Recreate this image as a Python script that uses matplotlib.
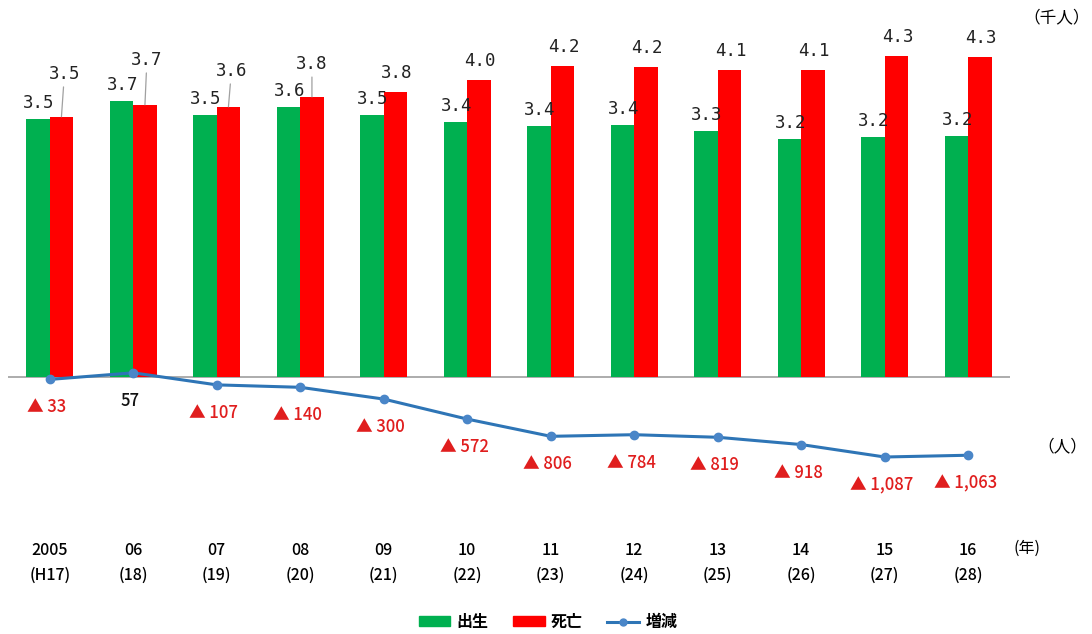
import matplotlib
matplotlib.use("Agg")
import matplotlib.pyplot as plt
from matplotlib.patches import Patch
from matplotlib.lines import Line2D
import numpy as np

plt.rcParams['font.family'] = ['Noto Sans CJK JP', 'DejaVu Sans']

# Data
years = ["2005", "06", "07", "08", "09", "10", "11", "12", "13", "14", "15", "16"]
eras = ["(H17)", "(18)", "(19)", "(20)", "(21)", "(22)", "(23)", "(24)", "(25)", "(26)", "(27)", "(28)"]
births = [3.460, 3.711, 3.520, 3.620, 3.520, 3.420, 3.370, 3.380, 3.300, 3.200, 3.220, 3.230]   # thousand people
deaths = [3.493, 3.654, 3.627, 3.760, 3.820, 3.992, 4.176, 4.164, 4.119, 4.118, 4.307, 4.293]   # thousand people
change = [-33, 57, -107, -140, -300, -572, -806, -784, -819, -918, -1087, -1063]               # people

GREEN = "#00B050"
RED = "#FF0000"
BLUE = "#2E75B6"
LABEL_RED = "#E01E1E"

W, H = 1092, 634
fig = plt.figure(figsize=(W / 100, H / 100), dpi=100)

# axes placed in pixel coordinates: x 8..1010, y 30..500 (from top)
left, right, top, bottom = 8, 1010, 30, 500
ax = fig.add_axes([left / W, (H - bottom) / H, (right - left) / W, (bottom - top) / H])
ax2 = ax.twinx()

zero_y = 377
px_per_k = 74.5
px_per_person = 0.0736
ax.set_ylim(-(bottom - zero_y) / px_per_k, (zero_y - top) / px_per_k)
ax2.set_ylim(-(bottom - zero_y) / px_per_person, (zero_y - top) / px_per_person)

x = np.arange(len(years))
bw = 0.28
ax.bar(x - bw / 2, births, width=bw, color=GREEN, zorder=2)
ax.bar(x + bw / 2, deaths, width=bw, color=RED, zorder=2)
ax.set_xlim(-0.5, len(years) - 0.5)
ax.axhline(0, color="#A6A6A6", lw=1.3, zorder=1)

for a in (ax, ax2):
    for s in a.spines.values():
        s.set_visible(False)
    a.set_yticks([])
ax.tick_params(axis="x", length=0, pad=30)
ax.set_xticks(x, [f"{y}\n{e}" for y, e in zip(years, eras)],
              fontsize=11.5, linespacing=1.65, fontweight="medium")

vfont = dict(family=["DejaVu Sans Mono"], fontsize=12.5, color="#222222")

# birth labels
for xi, v in zip(x, births):
    ax.annotate(f"{v:.1f}", (xi - bw / 2, v), xytext=(1, 16), textcoords="offset pixels",
                ha="center", va="center", **vfont)

# death labels; the first few are raised with a leader line
raised = {0: (3, 43), 1: (2, 45), 2: (3, 36), 3: (0, 33)}
for i, (xi, v) in enumerate(zip(x, deaths)):
    off = raised.get(i, (1, 19))
    kw = {}
    if i in raised:
        kw["arrowprops"] = dict(arrowstyle="-", color="#A0A0A0", lw=0.9,
                                shrinkA=1, shrinkB=0)
    ax.annotate(f"{v:.1f}", (xi + bw / 2, v), xytext=off, textcoords="offset pixels",
                ha="center", va="center", **vfont, **kw)

# natural change line
ax2.plot(x, change, color=BLUE, lw=2.2, marker="o", markersize=6,
         markerfacecolor="#4A86C8", markeredgecolor="#4A86C8", zorder=3)
for xi, v in zip(x, change):
    if v < 0:
        txt, col = f"▲ {abs(v):,}", LABEL_RED
    else:
        txt, col = f"{v}", "#111111"
    ax2.annotate(txt, (xi, v), xytext=(-3, -28), textcoords="offset pixels",
                 ha="center", va="center", fontsize=12, color=col, fontweight="medium")

# unit labels
fig.text(1057 / W, 1 - 18 / H, "（千人）", ha="center", va="center", fontsize=12)
fig.text(1062 / W, 1 - 447 / H, "（人）", ha="center", va="center", fontsize=12)
fig.text(1027 / W, 1 - 548 / H, "(年)", ha="center", va="center", fontsize=11.5)

handles = [Patch(color=GREEN), Patch(color=RED),
           Line2D([], [], color=BLUE, lw=2.2, marker="o", markersize=5,
                  markerfacecolor="#4A86C8", markeredgecolor="#4A86C8")]
fig.legend(handles, ["出生", "死亡", "増減"], loc="center", ncol=3,
           bbox_to_anchor=(548 / W, 1 - 622 / H), frameon=False,
           prop=dict(size=11.5, weight="bold"),
           handlelength=2.0, handleheight=0.6, columnspacing=1.5, handletextpad=0.4)

fig.savefig("out.png", dpi=100)
